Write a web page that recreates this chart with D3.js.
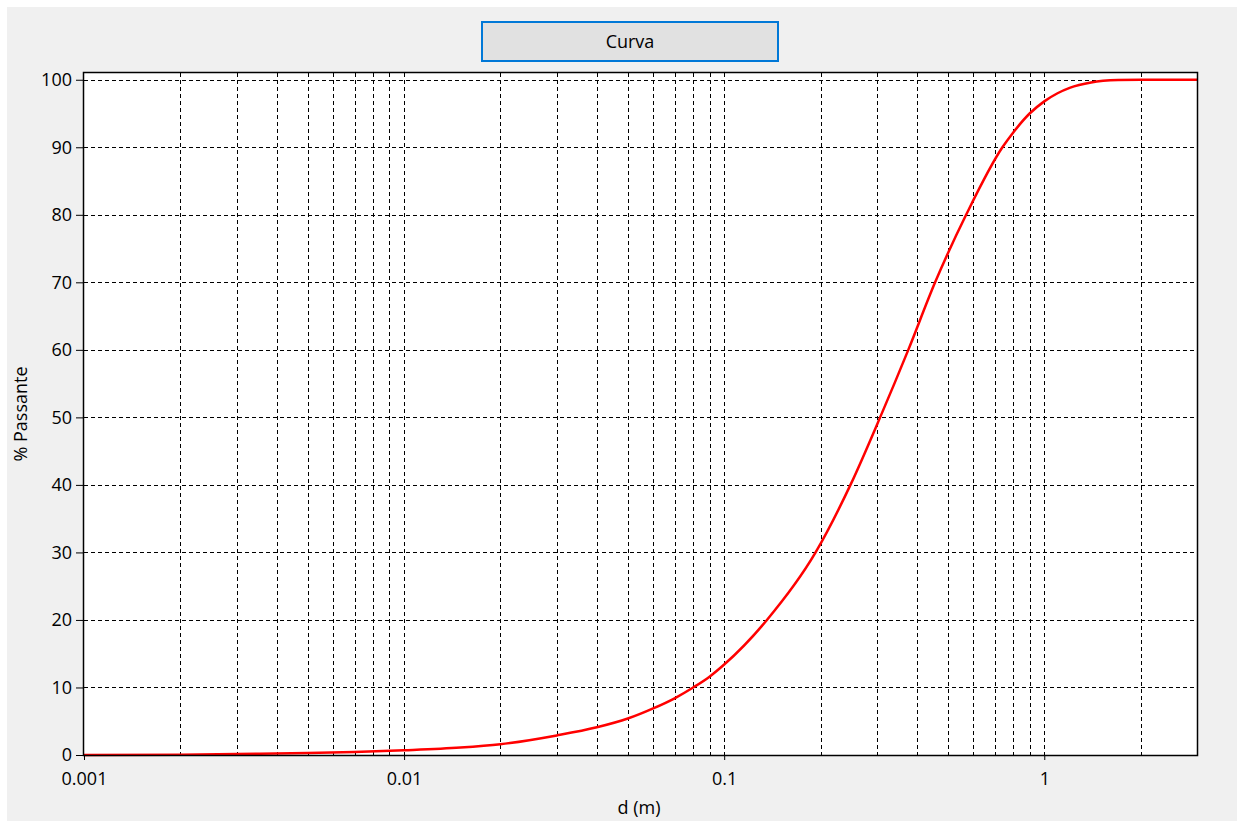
<!DOCTYPE html>
<html>
<head>
<meta charset="utf-8">
<script src="https://cdnjs.cloudflare.com/ajax/libs/d3/7.8.5/d3.min.js"></script>
<style>
  body { margin: 0; background: #fff; }
  svg text { font-family: "Open Sans", "Noto Sans", sans-serif; font-size: 18px; fill: #000; }
</style>
</head>
<body>
<div id="chart"></div>
<script>
// grain size (m) and % passing
const diameters = [0.001, 0.002, 0.003, 0.005, 0.007, 0.01, 0.015, 0.02, 0.03, 0.04, 0.05, 0.06, 0.07, 0.08, 0.09, 0.1, 0.136, 0.193, 0.248, 0.307, 0.376, 0.456, 0.57, 0.74, 0.8, 0.9, 1.0, 1.1, 1.2, 1.4, 1.7, 2, 3];
const passing   = [0, 0.05, 0.15, 0.3, 0.45, 0.7, 1.1, 1.6, 2.9, 4.1, 5.4, 6.9, 8.4, 10, 11.6, 13.4, 20, 30, 40, 50, 60, 70, 80, 90, 92.2, 95, 96.8, 98, 98.8, 99.6, 99.95, 100, 100];
const yTicks = [0, 10, 20, 30, 40, 50, 60, 70, 80, 90, 100];
const xMajor = [0.001, 0.01, 0.1, 1];
const xLabels = ["0.001", "0.01", "0.1", "1"];
const xDomain = [0.001, 3];
const yDomain = [0, 101];

const W = 1244, H = 828;
const plot = { left: 84, top: 73, right: 1197, bottom: 755 };

const svg = d3.select("#chart").append("svg")
  .attr("width", W).attr("height", H);

svg.append("rect")
  .attr("x", 7).attr("y", 7)
  .attr("width", W - 14).attr("height", H - 14)
  .attr("fill", "#f0f0f0");

// button
svg.append("rect")
  .attr("x", 482).attr("y", 22)
  .attr("width", 296).attr("height", 39)
  .attr("fill", "#e1e1e1")
  .attr("stroke", "#0078d7")
  .attr("stroke-width", 2);
svg.append("text")
  .attr("x", 630).attr("y", 48)
  .attr("text-anchor", "middle")
  .text("Curva");

const x = d3.scaleLog().domain(xDomain).range([plot.left, plot.right]);
const y = d3.scaleLinear().domain(yDomain).range([plot.bottom, plot.top]);

svg.append("rect")
  .attr("x", plot.left).attr("y", plot.top)
  .attr("width", plot.right - plot.left)
  .attr("height", plot.bottom - plot.top)
  .attr("fill", "#fff");

// every 1..9 x 10^n inside the domain
const xGrid = [];
for (let e = -3; e <= 0; e++) {
  for (let m = 1; m <= 9; m++) {
    const v = m * Math.pow(10, e);
    if (v > xDomain[0] && v < xDomain[1]) xGrid.push(+v.toPrecision(3));
  }
}

const grid = svg.append("g")
  .attr("stroke", "#000")
  .attr("stroke-width", 1)
  .attr("stroke-dasharray", "4,3");

grid.selectAll(".vx")
  .data(xGrid)
  .join("line")
  .attr("x1", d => Math.round(x(d)) + 0.5)
  .attr("x2", d => Math.round(x(d)) + 0.5)
  .attr("y1", plot.top)
  .attr("y2", plot.bottom);

grid.selectAll(".hy")
  .data(yTicks.filter(d => d > 0))
  .join("line")
  .attr("x1", plot.left)
  .attr("x2", plot.right)
  .attr("y1", d => Math.round(y(d)) + 0.5)
  .attr("y2", d => Math.round(y(d)) + 0.5);

// small tick marks along the top edge
svg.append("g")
  .attr("stroke", "#000")
  .selectAll("line")
  .data(xGrid)
  .join("line")
  .attr("x1", d => Math.round(x(d)) + 0.5)
  .attr("x2", d => Math.round(x(d)) + 0.5)
  .attr("y1", plot.top)
  .attr("y2", plot.top + 4);

// curve
const line = d3.line()
  .x((d, i) => x(diameters[i]))
  .y(d => y(d))
  .curve(d3.curveMonotoneX);

svg.append("path")
  .datum(passing)
  .attr("d", line)
  .attr("fill", "none")
  .attr("stroke", "#ff0000")
  .attr("stroke-width", 2.5);

// frame
svg.append("rect")
  .attr("x", plot.left - 0.5).attr("y", plot.top - 0.5)
  .attr("width", plot.right - plot.left + 1)
  .attr("height", plot.bottom - plot.top + 1)
  .attr("fill", "none")
  .attr("stroke", "#000")
  .attr("stroke-width", 1.5);

// y axis
const yAxis = svg.append("g")
  .attr("transform", `translate(${plot.left},0)`)
  .call(d3.axisLeft(y).tickValues(yTicks).tickSize(8).tickPadding(4));
yAxis.select(".domain").remove();
yAxis.selectAll("text").style("font-size", "18px").attr("fill", "#000");

// x axis
const xAxis = svg.append("g")
  .attr("transform", `translate(0,${plot.bottom})`)
  .call(d3.axisBottom(x).tickValues(xMajor).tickFormat((d, i) => xLabels[i]).tickSize(5).tickPadding(12));
xAxis.select(".domain").remove();
xAxis.selectAll("text").style("font-size", "18px").attr("fill", "#000");

svg.append("text")
  .attr("transform", `translate(27,${(plot.top + plot.bottom) / 2}) rotate(-90)`)
  .attr("text-anchor", "middle")
  .text("% Passante");

svg.append("text")
  .attr("x", 639)
  .attr("y", 814)
  .attr("text-anchor", "middle")
  .text("d (m)");
</script>
</body>
</html>
